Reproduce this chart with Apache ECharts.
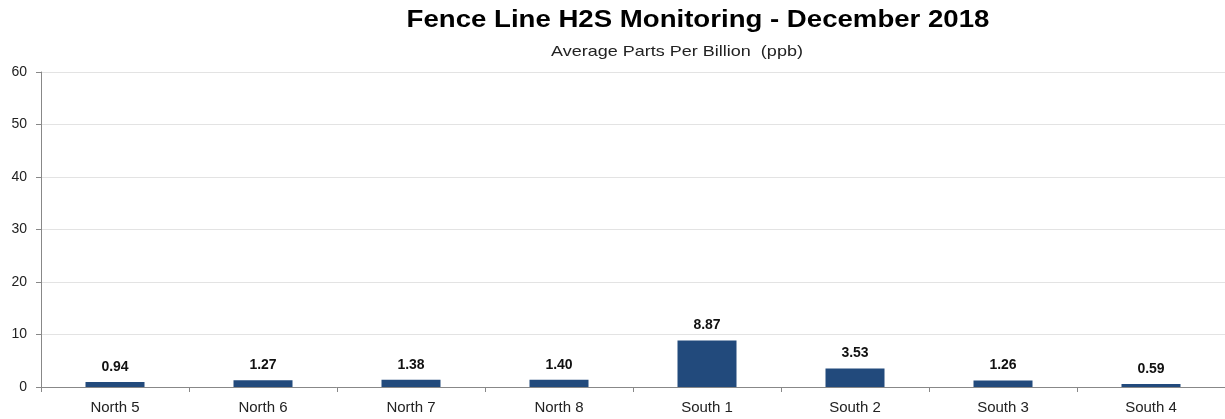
<!DOCTYPE html>
<html>
<head>
<meta charset="utf-8">
<script src="https://cdn.jsdelivr.net/npm/echarts@6/dist/echarts.min.js"></script>
<style>
  html, body { margin: 0; padding: 0; background: #fff; }
  #chart { width: 1225px; height: 419px; }
</style>
</head>
<body>
<div id="chart"></div>
<script>
// 监测点
var stations = ['North 5', 'North 6', 'North 7', 'North 8', 'South 1', 'South 2', 'South 3', 'South 4'];
// 月平均值 (ppb)
var avgPpb = [0.94, 1.27, 1.38, 1.40, 8.87, 3.53, 1.26, 0.59];
var yTicks = [0, 10, 20, 30, 40, 50, 60];

var chart = echarts.init(document.getElementById('chart'));

var option = {
    animation: false,
    // 标题 原图文字横向略拉伸
    graphic: [{
        type: 'text',
        x: 698,
        y: 9,
        scaleX: 1.2,
        style: {
            text: 'Fence Line H2S Monitoring - December 2018',
            font: 'bold 23px "Liberation Sans"',
            fill: '#000',
            textAlign: 'center',
            textVerticalAlign: 'top'
        }
    }, {
        type: 'text',
        x: 677,
        y: 44,
        scaleX: 1.2,
        style: {
            text: 'Average Parts Per Billion  (ppb)',
            font: '15px "Liberation Sans"',
            fill: '#222',
            textAlign: 'center',
            textVerticalAlign: 'top'
        }
    }],
    grid: {
        left: 41,
        right: 0,
        top: 72,
        bottom: 32
    },
    xAxis: {
        type: 'category',
        data: stations,
        axisLine: { lineStyle: { color: '#888' } },
        axisTick: { show: true, length: 5, lineStyle: { color: '#888' } },
        axisLabel: { fontFamily: 'Liberation Sans', fontSize: 15, color: '#222', margin: 13 }
    },
    yAxis: {
        type: 'value',
        min: yTicks[0],
        max: yTicks[yTicks.length - 1],
        interval: 10,
        axisLine: { show: true, lineStyle: { color: '#888' } },
        axisTick: { show: true, length: 5, lineStyle: { color: '#888' } },
        axisLabel: { fontFamily: 'Liberation Sans', fontSize: 14, color: '#222', margin: 14 },
        splitLine: { lineStyle: { color: '#e3e3e3' } }
    },
    series: [{
        type: 'bar',
        data: avgPpb,
        barWidth: 59,
        itemStyle: { color: '#224a7c' },
        label: {
            show: true,
            position: 'top',
            distance: 8,
            formatter: function (p) { return p.value.toFixed(2); },
            fontFamily: 'Liberation Sans',
            fontSize: 14,
            fontWeight: 'bold',
            color: '#111'
        }
    }]
};

chart.setOption(option);
</script>
</body>
</html>
